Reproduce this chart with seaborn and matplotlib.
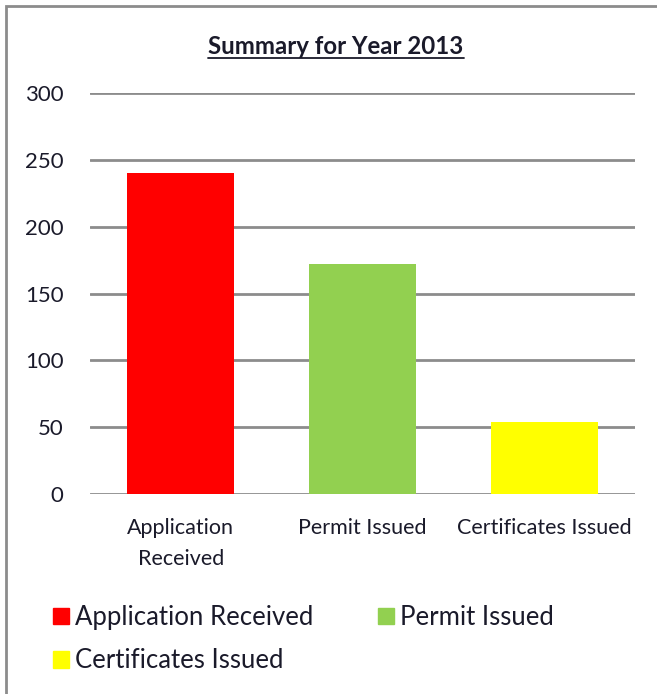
import matplotlib
matplotlib.use("Agg")
import matplotlib.pyplot as plt
import matplotlib.patches as mpatches
import seaborn as sns
import pandas as pd

categories = ["Application Received", "Permit Issued", "Certificates Issued"]
tick_labels = ["Application\nReceived", "Permit Issued", "Certificates Issued"]
values = [240, 172, 54]
colors = ["#FF0000", "#92D050", "#FFFF00"]
yticks = [0, 50, 100, 150, 200, 250, 300]
title = "Summary for Year 2013"

sns.set_theme(style="white")
plt.rcParams["font.family"] = ["Lato", "DejaVu Sans"]
text_color = "#1a1a2a"

df = pd.DataFrame({"cat": categories, "val": values})

W, H = 657, 694
fig = plt.figure(figsize=(W/100, H/100), dpi=100)
ax = fig.add_axes([90/W, (H-494)/H, (635-90)/W, (494-93)/H])

sns.barplot(data=df, x="cat", y="val", hue="cat", palette=colors, dodge=False,
            width=0.59, ax=ax, legend=False, saturation=1, linewidth=0, zorder=3)

ax.set_ylim(0, 300)
ax.set_yticks(yticks)
ax.set_xlim(-0.5, 2.5)
ax.set_xticks(range(len(categories)))
ax.set_xticklabels(tick_labels, fontsize=15.5, color=text_color, linespacing=1.7)
ax.tick_params(axis="y", labelsize=16, labelcolor=text_color, length=0, pad=19)
ax.tick_params(axis="x", length=0, pad=17)
ax.set_xlabel("")
ax.set_ylabel("")
for s in ax.spines.values():
    s.set_visible(False)
ax.grid(axis="y", color="#8c8c8c", linewidth=2, zorder=0)
ax.set_axisbelow(True)

t = fig.text(336/W, (H-47)/H, title, ha="center", va="center",
             fontsize=17.3, fontweight="bold", color=text_color)
fig.canvas.draw()
bb = t.get_window_extent().transformed(fig.transFigure.inverted())
fig.add_artist(plt.Line2D([bb.x0, bb.x1], [(H-58)/H]*2, color=text_color, lw=1.3))

handles = [mpatches.Patch(color=c, label=l) for c, l in zip(colors, categories)]
order = [0, 2, 1]
fig.legend([handles[i] for i in order], [categories[i] for i in order],
           ncol=2, loc="upper left", bbox_to_anchor=(53/W, (H-605)/H),
           frameon=False, fontsize=18.5, handlelength=0.62, handleheight=0.62,
           handletextpad=0.25, columnspacing=2.5, labelspacing=0.72,
           labelcolor=text_color, borderaxespad=0, borderpad=0)

fig.add_artist(mpatches.Rectangle((6/W, -0.05), 1.0, (H-6)/H + 0.05,
                                  transform=fig.transFigure, fill=False,
                                  edgecolor="#8c8c8c", lw=2))

fig.savefig("out.png", dpi=100)
